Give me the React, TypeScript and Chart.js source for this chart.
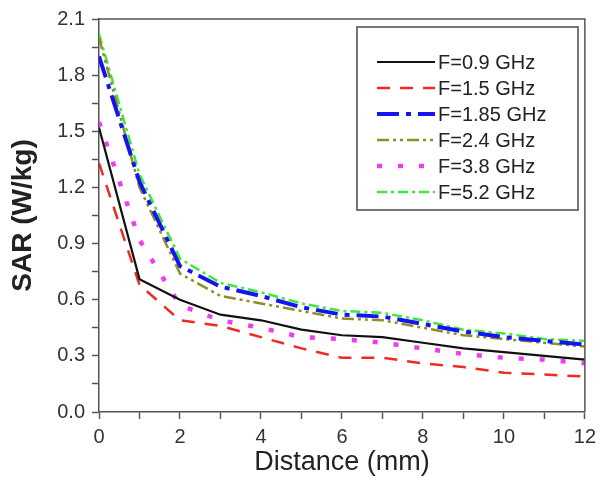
import React, { useEffect, useRef } from "react";
import { Chart, registerables } from "chart.js";

Chart.register(...registerables);

const distances = [0, 1, 2, 3, 4, 5, 6, 7, 8, 9, 10, 11, 12];
const seriesLabels = ["F=0.9 GHz", "F=1.5 GHz", "F=1.85 GHz", "F=2.4 GHz", "F=3.8 GHz", "F=5.2 GHz"];
const sar09 = [1.52, 0.71, 0.6, 0.52, 0.49, 0.44, 0.41, 0.4, 0.37, 0.34, 0.32, 0.3, 0.28];
const sar15 = [1.33, 0.68, 0.49, 0.46, 0.4, 0.34, 0.29, 0.29, 0.26, 0.24, 0.21, 0.2, 0.19];
const sar185 = [1.9, 1.23, 0.78, 0.67, 0.62, 0.56, 0.52, 0.51, 0.47, 0.43, 0.4, 0.38, 0.36];
const sar24 = [2.0, 1.2, 0.74, 0.62, 0.58, 0.54, 0.5, 0.49, 0.45, 0.41, 0.39, 0.37, 0.35];
const sar38 = [1.55, 0.92, 0.57, 0.49, 0.45, 0.4, 0.39, 0.37, 0.34, 0.31, 0.29, 0.28, 0.26];
const sar52 = [2.02, 1.27, 0.82, 0.69, 0.64, 0.58, 0.54, 0.53, 0.49, 0.44, 0.42, 0.39, 0.38];
const seriesValues = [sar09, sar15, sar185, sar24, sar38, sar52];

const seriesColors = ["#111111", "#ee2a24", "#1414ee", "#8e8e2a", "#ee3cee", "#3ee83e"];
const seriesDashes = [[], [13, 10], [22, 7, 5, 7], [12, 4, 3, 4, 3, 4], [5, 16], [10, 4, 3, 4]];
const seriesWidths = [2.2, 2.5, 4, 2.5, 4.5, 2.5];

const FONT = "'Liberation Sans', Arial, Helvetica, sans-serif";

const frameAndLegend = {
  id: "frameAndLegend",
  afterDatasetsDraw(chart: any) {
    const { ctx, chartArea } = chart;
    ctx.save();
    ctx.strokeStyle = "#555555";
    ctx.lineWidth = 1.5;
    ctx.setLineDash([]);
    ctx.beginPath();
    ctx.moveTo(chartArea.left, chartArea.top);
    ctx.lineTo(chartArea.right, chartArea.top);
    ctx.lineTo(chartArea.right, chartArea.bottom);
    ctx.stroke();

    const bx = 357, by = 27, bw = 221, bh = 183;
    ctx.fillStyle = "#ffffff";
    ctx.fillRect(bx, by, bw, bh);
    ctx.strokeStyle = "#666666";
    ctx.lineWidth = 1.8;
    ctx.strokeRect(bx, by, bw, bh);

    const rowStart = 62;
    const rowStep = 26;
    chart.data.datasets.forEach((ds: any, i: number) => {
      const y = rowStart + i * rowStep;
      ctx.strokeStyle = ds.borderColor;
      ctx.lineWidth = ds.borderWidth;
      ctx.setLineDash(ds.borderDash || []);
      ctx.beginPath();
      ctx.moveTo(377, y);
      ctx.lineTo(435, y);
      ctx.stroke();
      ctx.setLineDash([]);
      ctx.fillStyle = "#222222";
      ctx.font = `20px ${FONT}`;
      ctx.textBaseline = "middle";
      ctx.textAlign = "left";
      ctx.fillText(ds.label, 438, y + 1);
    });
    ctx.restore();
  },
};

export default function App() {
  const canvasRef = useRef<HTMLCanvasElement | null>(null);

  useEffect(() => {
    if (!canvasRef.current) return;
    const datasets = seriesLabels.map((label, i) => ({
      label,
      data: distances.map((d, j) => ({ x: d, y: seriesValues[i][j] })),
      borderColor: seriesColors[i],
      backgroundColor: seriesColors[i],
      borderWidth: seriesWidths[i],
      borderDash: seriesDashes[i],
      pointRadius: 0,
      tension: 0,
      fill: false,
    }));

    const chart = new Chart(canvasRef.current, {
      type: "line",
      data: { datasets },
      plugins: [frameAndLegend],
      options: {
        animation: false,
        responsive: false,
        devicePixelRatio: 1,
        layout: { padding: { left: 0, top: 18, right: 17, bottom: 0 } },
        plugins: {
          legend: { display: false },
          tooltip: { enabled: false },
        },
        scales: {
          x: {
            type: "linear",
            min: 0,
            max: 12,
            afterFit: (scale: any) => {
              scale.height = 75;
            },
            ticks: {
              stepSize: 1,
              autoSkip: false,
              maxRotation: 0,
              padding: 6,
              color: "#333333",
              font: { family: FONT, size: 20 },
              callback: (v: any) => (Number(v) % 2 === 0 ? String(v) : ""),
            },
            grid: {
              drawOnChartArea: false,
              drawTicks: true,
              tickLength: 7,
              tickColor: "#555555",
              tickWidth: 1.5,
            },
            border: { color: "#555555", width: 1.5 },
            title: {
              display: true,
              text: "Distance (mm)",
              color: "#222222",
              font: { family: FONT, size: 27 },
              padding: { top: 0, bottom: 8 },
            },
          },
          y: {
            type: "linear",
            min: 0,
            max: 2.1,
            afterFit: (scale: any) => {
              scale.width = 99;
            },
            afterBuildTicks: (scale: any) => {
              const t = [];
              for (let k = 0; k <= 14; k++) t.push({ value: Math.round(k * 15) / 100 });
              scale.ticks = t;
            },
            ticks: {
              autoSkip: false,
              padding: 7,
              color: "#333333",
              font: { family: FONT, size: 20 },
              callback: (v: any, idx: number) => (idx % 2 === 0 ? Number(v).toFixed(1) : ""),
            },
            grid: {
              drawOnChartArea: false,
              drawTicks: true,
              tickLength: 7,
              tickColor: "#555555",
              tickWidth: 1.5,
            },
            border: { color: "#555555", width: 1.5 },
            title: {
              display: true,
              text: "SAR (W/kg)",
              color: "#222222",
              font: { family: FONT, size: 28, weight: "bold" },
              padding: { top: 6, bottom: 0 },
            },
          },
        },
      } as any,
    });
    return () => chart.destroy();
  }, []);

  return (
    <div style={{ position: "fixed", left: 0, top: 0, width: 602, height: 487, background: "#ffffff" }}>
      <canvas ref={canvasRef} width={602} height={487} style={{ width: 602, height: 487, display: "block" }} />
    </div>
  );
}
